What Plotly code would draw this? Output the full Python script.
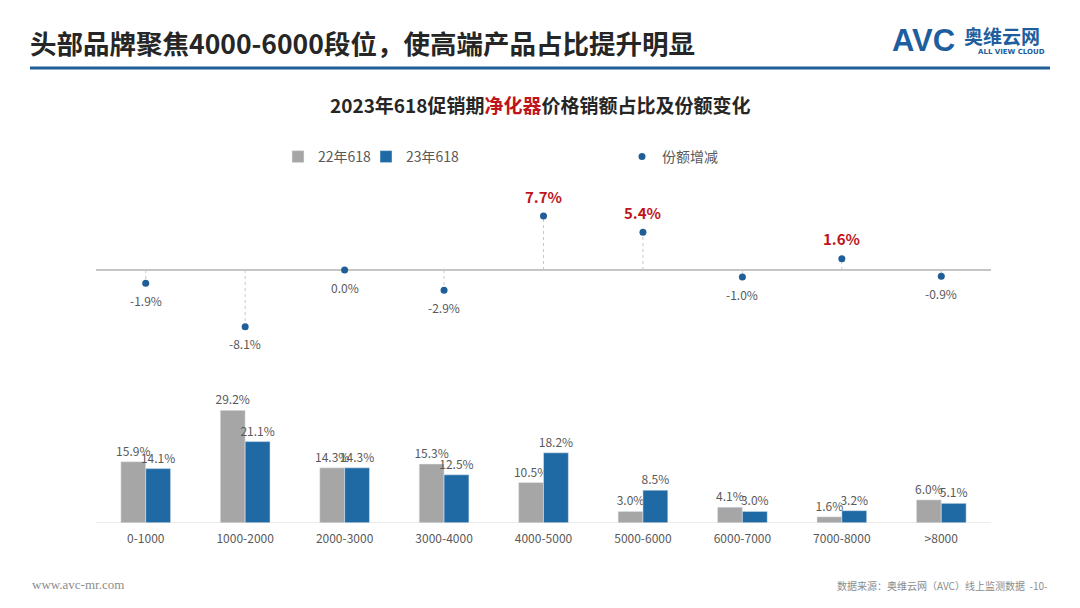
import plotly.graph_objects as go

categories = ["0-1000", "1000-2000", "2000-3000", "3000-4000", "4000-5000",
              "5000-6000", "6000-7000", "7000-8000", ">8000"]
share_22 = [15.9, 29.2, 14.3, 15.3, 10.5, 3.0, 4.1, 1.6, 6.0]
share_23 = [14.1, 21.1, 14.3, 12.5, 18.2, 8.5, 3.0, 3.2, 5.1]
change = [-1.9, -8.1, 0.0, -2.9, 7.7, 5.4, -1.0, 1.6, -0.9]

# page has an 8px body margin: figure is 1064x592 drawn at (8, 8)
OFF = 8
W, H = 1064, 592
PLOT_X0, PLOT_X1 = 96, 991   # screen px of the plotting area
L = PLOT_X0 - OFF
R = W - (PLOT_X1 - OFF)

def px(x):
    return (x - OFF - L) / (W - L - R)

def py(y):
    return 1 - (y - OFF) / H

GREY = "#A6A6A6"
BLUE = "#1F6AA5"
DOT = "#1F5E96"
RED = "#C0141C"
FONT = "Noto Sans CJK SC"

fig = go.Figure()

fig.add_trace(go.Bar(
    x=categories, y=share_22, name="22年618", marker_color=GREY,
    text=[f"{v:.1f}%" for v in share_22], textposition="outside",
    textfont=dict(size=12, color="#595959", family=FONT),
    constraintext="none", cliponaxis=False, legend="legend",
))
fig.add_trace(go.Bar(
    x=categories, y=share_23, name="23年618", marker_color=BLUE,
    text=[f"{v:.1f}%" for v in share_23], textposition="outside",
    textfont=dict(size=12, color="#595959", family=FONT),
    constraintext="none", cliponaxis=False, legend="legend3",
))

# dashed stems from zero to each change dot
for c, v in zip(categories, change):
    if v != 0:
        fig.add_shape(type="line", xref="x", yref="y2", x0=c, x1=c, y0=0, y1=v,
                      line=dict(color="#C8C8C8", width=1, dash="dot"), layer="below")

fig.add_shape(type="line", xref="paper", yref="y2", x0=0, x1=1, y0=0, y1=0,
              line=dict(color="#8C8C8C", width=1.2), layer="below")

fig.add_trace(go.Scatter(
    x=categories, y=change, yaxis="y2", mode="markers", name="份额增减",
    marker=dict(color=DOT, size=7), cliponaxis=False, legend="legend2",
))

# baseline under bars
fig.add_shape(type="line", xref="paper", yref="y", x0=0, x1=1, y0=0, y1=0,
              line=dict(color="#D9D9D9", width=1.2), layer="above")

def ann(text, x, y, xanchor="left", **font):
    return dict(text=text, x=px(x), y=py(y), xref="paper", yref="paper",
                xanchor=xanchor, yanchor="middle", showarrow=False, font=font)

annotations = [
    ann("头部品牌聚焦4000-6000段位，使高端产品占比提升明显", 28, 43,
        size=26.5, color="#262626", family=FONT, weight="bold"),
    ann("2023年618促销期<span style='color:#C0141C'>净化器</span>价格销额占比及份额变化", 540, 105,
        xanchor="center", size=19, color="#262626", family=FONT, weight="bold"),
    ann("AVC", 890, 41, size=31, color="#1F5E9E", family="Liberation Sans", weight="bold"),
    ann("奥维云网", 962, 35, size=19, color="#1F5E9E", family=FONT, weight="bold"),
    ann("ALL VIEW CLOUD", 976, 52, size=7, color="#1F5E9E", family="DejaVu Sans", weight="bold"),
    ann("www.avc-mr.com", 30, 584, size=13, color="#8C8C8C", family="Liberation Serif"),
    ann("数据来源：奥维云网（AVC）线上监测数据  -10-", 1050, 585, xanchor="right",
        size=10, color="#8C8C8C", family=FONT),
]

# value labels for share change
for c, v in zip(categories, change):
    pos = v > 0
    annotations.append(dict(
        text=f"{v:.1f}%", x=c, y=v, xref="x", yref="y2", showarrow=False,
        xanchor="center", yanchor="middle", yshift=20 if pos else -17,
        font=dict(size=15 if pos else 12, color=RED if pos else "#595959",
                  family=FONT, weight="bold" if pos else "normal"),
    ))

fig.add_shape(type="line", xref="paper", yref="paper", x0=px(30), x1=px(1050),
              y0=py(68), y1=py(68), line=dict(color="#1F5E96", width=3))

leg = dict(orientation="h", yanchor="middle", xanchor="left", itemwidth=30,
           font=dict(size=14, color="#595959", family=FONT), bgcolor="rgba(0,0,0,0)")

fig.update_layout(
    width=W, height=H,
    margin=dict(l=L, r=R, t=0, b=0),
    paper_bgcolor="white", plot_bgcolor="rgba(0,0,0,0)",
    barmode="group", bargap=0.5, bargroupgap=0,
    font=dict(family=FONT, color="#595959"),
    annotations=annotations,
    xaxis=dict(type="category", range=[-0.5, 8.5], showgrid=False, showline=False,
               ticks="", tickfont=dict(size=12, color="#595959", family=FONT),
               ticklabelstandoff=7, anchor="y", fixedrange=True),
    yaxis=dict(domain=[py(523), py(388)], range=[0, 35], visible=False, showgrid=False),
    yaxis2=dict(domain=[py(340), py(200)], range=[-10, 10], visible=False, showgrid=False,
                anchor="x"),
    legend=dict(leg, x=px(278), y=py(157)),
    legend3=dict(leg, x=px(366), y=py(157)),
    legend2=dict(leg, x=px(622), y=py(157)),
    showlegend=True,
)

fig.write_html("out.html")
